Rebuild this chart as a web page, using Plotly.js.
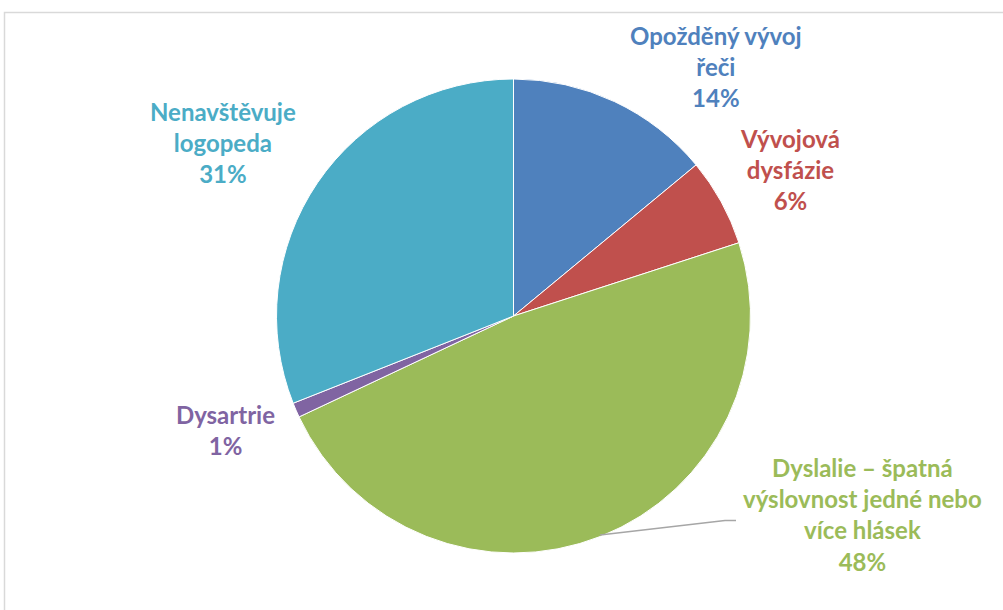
<!DOCTYPE html>
<html>
<head>
<meta charset="utf-8">
<script src="https://cdn.plot.ly/plotly-3.0.1.min.js"></script>
<style>html,body{margin:0;padding:0;background:#fff;}#chart{width:1003px;height:610px;}</style>
</head>
<body>
<div id="chart"></div>
<script>
const categories = ["Opožděný vývoj řeči", "Vývojová dysfázie", "Dyslalie – špatná výslovnost jedné nebo více hlásek", "Dysartrie", "Nenavštěvuje logopeda"];
const values = [14, 6, 48, 1, 31];
const colors = ["#4F81BD", "#C0504D", "#9BBB59", "#8064A2", "#4BACC6"];
const labelTexts = ["Opožděný vývoj<br>řeči", "Vývojová<br>dysfázie", "Dyslalie – špatná<br>výslovnost jedné nebo<br>více hlásek", "Dysartrie", "Nenavštěvuje<br>logopeda"];

const W = 1003, H = 610;
const labelPos = [[716, 67], [790, 170], [862, 514], [225, 430], [223, 142]];

const total = values.reduce((a, b) => a + b, 0);
const annotations = categories.map((c, i) => ({
  xref: 'paper', yref: 'paper',
  x: labelPos[i][0] / W, y: 1 - labelPos[i][1] / H,
  xanchor: 'center', yanchor: 'middle',
  text: labelTexts[i] + '<br>' + Math.round(values[i] / total * 100) + '%',
  showarrow: false,
  font: {family: 'Lato, "Open Sans", sans-serif', size: 24, color: colors[i], weight: 'bold'},
  align: 'center'
}));

const trace = {
  type: 'pie',
  labels: categories,
  values: values,
  sort: false,
  direction: 'clockwise',
  rotation: 0,
  marker: {colors: colors, line: {color: '#ffffff', width: 1}},
  textinfo: 'none',
  hoverinfo: 'label+percent',
  domain: {x: [276.5 / W, 750.5 / W], y: [1 - 553 / H, 1 - 79 / H]},
  showlegend: false
};

const layout = {
  width: W, height: H,
  margin: {l: 0, r: 0, t: 0, b: 0},
  paper_bgcolor: '#ffffff',
  showlegend: false,
  annotations: annotations,
  shapes: [
    {type: 'rect', xref: 'paper', yref: 'paper', x0: 4.5 / W, x1: 1.02, y0: -0.02, y1: 1 - 12.5 / H,
     line: {color: '#D9D9D9', width: 1.5}, fillcolor: 'rgba(0,0,0,0)', layer: 'below'},
    {type: 'path', xref: 'paper', yref: 'paper',
     path: 'M ' + (600 / W) + ',' + (1 - 535 / H) + ' L ' + (725 / W) + ',' + (1 - 520.5 / H) + ' L ' + (736 / W) + ',' + (1 - 520.5 / H),
     line: {color: '#A6A6A6', width: 1.5}}
  ]
};

Plotly.newPlot('chart', [trace], layout, {displayModeBar: false, staticPlot: true});
</script>
</body>
</html>
